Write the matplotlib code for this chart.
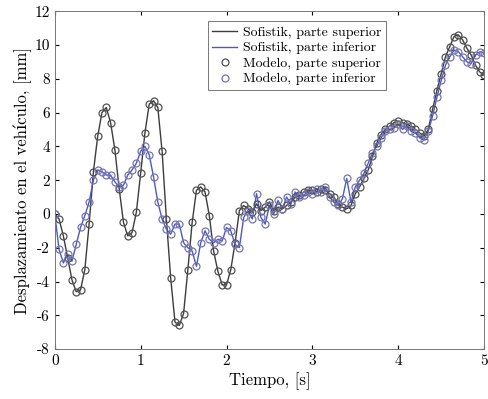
import numpy as np
import matplotlib
matplotlib.use("Agg")
import matplotlib.pyplot as plt

plt.rcParams['font.family'] = ['cmr10', 'DejaVu Serif']
plt.rcParams['axes.unicode_minus'] = False
plt.rcParams['axes.formatter.use_mathtext'] = False

# tiempo [s], paso de 0.05
tiempo = np.arange(0, 101) * 0.05

# parte superior (negro)
superior = [
    0.0, -0.3, -1.3, -2.6, -3.9, -4.6, -4.5, -3.3, -0.6, 2.5,
    4.6, 6.0, 6.3, 5.4, 3.8, 1.5, -0.5, -1.3, -1.1, 0.1,
    2.4, 4.8, 6.5, 6.7, 6.3, 3.7, -0.3, -3.8, -6.4, -6.6,
    -5.9, -3.3, -0.5, 1.4, 1.6, 1.3, -0.1, -2.2, -3.4, -4.2,
    -4.2, -3.3, -1.7, 0.2, 0.5, 0.3, 0.1, 0.6, 0.2, 0.4,
    0.7, 0.2, 0.4, 0.3, 0.5, 0.7, 1.0, 1.1, 1.3, 1.4,
    1.4, 1.3, 1.5, 1.4, 1.2, 1.0, 0.6, 0.4, 0.3, 0.5,
    1.2, 1.6, 2.1, 2.6, 3.4, 4.2, 4.7, 5.0, 5.2, 5.4,
    5.5, 5.4, 5.3, 5.2, 5.0, 4.8, 4.6, 5.0, 6.2, 7.3,
    8.3, 9.3, 9.9, 10.5, 10.6, 10.3, 9.8, 9.4, 8.8, 8.4,
    8.2,
]

# parte inferior (azul)
inferior = [
    0.0, -2.1, -2.9, -2.4, -2.8, -1.8, -0.8, -0.1, 0.7, 2.0,
    2.6, 2.5, 2.3, 2.3, 1.9, 1.6, 1.7, 2.3, 2.6, 3.0,
    3.7, 4.0, 3.5, 2.2, 0.7, -0.3, -0.9, -1.2, -0.6, -0.6,
    -1.7, -2.0, -2.2, -3.1, -1.7, -1.0, -1.5, -1.7, -1.5, -1.6,
    -0.8, -1.0, -1.8, -2.0, -0.2, 0.2, -0.3, 1.2, -0.2, -0.6,
    0.5, 0.0, 0.8, 0.3, 1.0, 0.6, 1.3, 1.0, 1.1, 1.3,
    1.2, 1.5, 1.3, 1.6, 1.0, 0.7, 0.5, 0.9, 2.1, 0.7,
    1.6, 2.0, 2.4, 3.0, 3.6, 4.0, 4.5, 4.9, 5.0, 5.1,
    5.3, 5.0, 5.2, 4.9, 4.8, 4.5, 4.4, 4.9, 5.8, 6.9,
    7.9, 8.8, 9.3, 9.7, 9.6, 9.3, 9.0, 8.9, 9.4, 9.6,
    9.5,
]

gris = '#3c3c3c'
azul = '#5058c0'

fig = plt.figure(figsize=(4.89, 3.99), dpi=100)
ax = fig.add_axes([0.112, 0.125, 0.878, 0.847])

ax.plot(tiempo, superior, '-', color=gris, lw=1.0, label='Sofistik, parte superior')
ax.plot(tiempo, inferior, '-', color=azul, lw=1.0, label='Sofistik, parte inferior')
ax.plot(tiempo, superior, 'o', color='#505050', mfc='none', ms=5, mew=0.9,
        label='Modelo, parte superior')
ax.plot(tiempo, inferior, 'o', color='#7474b4', mfc='none', ms=5, mew=0.9,
        label='Modelo, parte inferior')

ax.set_xlim(0, 5)
ax.set_ylim(-8, 12)
ax.set_xticks(range(0, 6))
ax.set_yticks(range(-8, 13, 2))
ax.tick_params(direction='in', top=True, right=True, labelsize=11, length=3)
for s in ax.spines.values():
    s.set_color('#777777')
    s.set_linewidth(0.7)

ax.set_xlabel('Tiempo, [s]', fontsize=12, labelpad=3)
ax.set_ylabel('Desplazamiento en el vehículo, [mm]', fontsize=12, labelpad=2)

leg = ax.legend(loc='upper left', bbox_to_anchor=(0.356, 0.97), borderaxespad=0,
                fontsize=10, handlelength=1.8, handletextpad=0.4, labelspacing=0.2,
                borderpad=0.35, fancybox=False, framealpha=1, edgecolor='#777777')
leg.get_frame().set_linewidth(0.7)

fig.savefig('out.png', dpi=100)
